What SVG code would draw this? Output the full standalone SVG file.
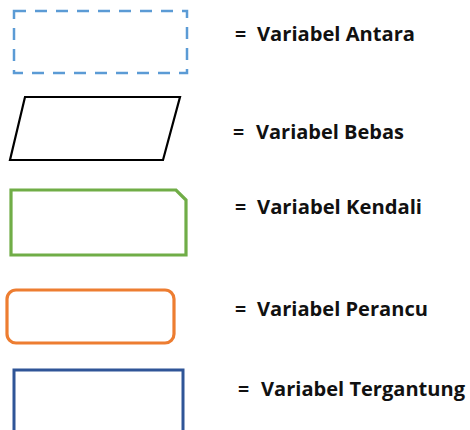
<svg xmlns="http://www.w3.org/2000/svg" width="470" height="430" viewBox="0 0 470 430">
  <style>
    .lbl { font-family: "Open Sans", "Liberation Sans", sans-serif; font-weight: bold; font-size: 19.5px; fill: #111111; }
    .shape { fill: #ffffff; }
  </style>
  <rect width="470" height="430" fill="#ffffff"/>

  <!-- Intervening variable: dashed blue box -->
  <g id="antara">
    <rect class="shape" x="14" y="11" width="173" height="62" stroke="#5b9bd5" stroke-width="2.5" stroke-dasharray="12 9"/>
    <text class="lbl" x="235" y="41">=</text>
    <text class="lbl" x="257" y="41" textLength="158" lengthAdjust="spacingAndGlyphs">Variabel Antara</text>
  </g>

  <!-- Independent variable: parallelogram -->
  <g id="bebas">
    <polygon class="shape" points="25,97 180,97 163,160 10,160" stroke="#000000" stroke-width="2.2"/>
    <text class="lbl" x="233" y="139">=</text>
    <text class="lbl" x="256" y="139" textLength="148" lengthAdjust="spacingAndGlyphs">Variabel Bebas</text>
  </g>

  <!-- Control variable: box with clipped corner -->
  <g id="kendali">
    <polygon class="shape" points="11,190 176,190 186,200 186,255 11,255" stroke="#70ad47" stroke-width="3.2"/>
    <text class="lbl" x="235" y="214">=</text>
    <text class="lbl" x="257" y="214" textLength="165" lengthAdjust="spacingAndGlyphs">Variabel Kendali</text>
  </g>

  <!-- Confounding variable: rounded box -->
  <g id="perancu">
    <rect class="shape" x="7" y="290" width="167" height="53" rx="9" stroke="#ed7d31" stroke-width="3.2"/>
    <text class="lbl" x="235" y="316">=</text>
    <text class="lbl" x="257" y="316" textLength="171" lengthAdjust="spacingAndGlyphs">Variabel Perancu</text>
  </g>

  <!-- Dependent variable: plain box -->
  <g id="tergantung">
    <rect class="shape" x="14" y="370" width="169" height="80" stroke="#2f5597" stroke-width="3"/>
    <text class="lbl" x="238" y="396">=</text>
    <text class="lbl" x="261" y="396" textLength="204" lengthAdjust="spacingAndGlyphs">Variabel Tergantung</text>
  </g>

  <g id="connectors"/>
</svg>
